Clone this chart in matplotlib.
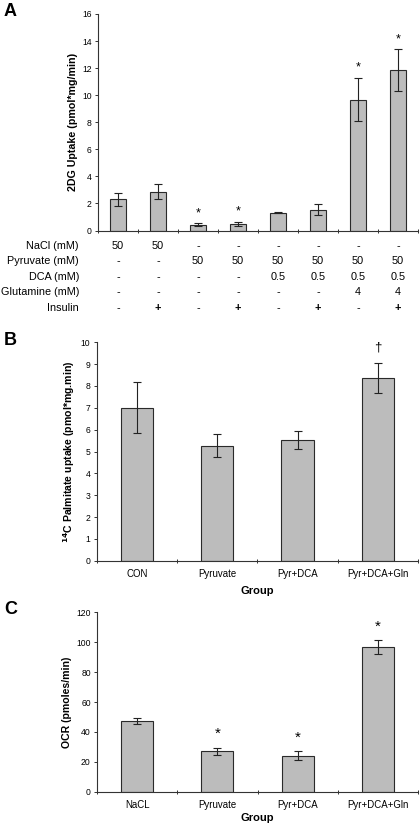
import matplotlib
matplotlib.use("Agg")
import matplotlib.pyplot as plt
import matplotlib.transforms as mtrans
import numpy as np

plt.rcParams['font.family'] = ['Liberation Sans', 'DejaVu Sans']

# ---- Panel A data ----
a_values = [2.3, 2.88, 0.42, 0.48, 1.33, 1.54, 9.68, 11.84]
a_errors = [0.49, 0.52, 0.11, 0.15, 0.03, 0.42, 1.6, 1.56]
a_sig = ['', '', '*', '*', '', '', '*', '*']
row_labels = ['NaCl (mM)', 'Pyruvate (mM)', 'DCA (mM)', 'Glutamine (mM)', 'Insulin']
row_nacl = ['50', '50', '-', '-', '-', '-', '-', '-']
row_pyr = ['-', '-', '50', '50', '50', '50', '50', '50']
row_dca = ['-', '-', '-', '-', '0.5', '0.5', '0.5', '0.5']
row_gln = ['-', '-', '-', '-', '-', '-', '4', '4']
row_ins = ['-', '+', '-', '+', '-', '+', '-', '+']
a_yticks = [0, 2, 4, 6, 8, 10, 12, 14, 16]

# ---- Panel B data ----
b_groups = ['CON', 'Pyruvate', 'Pyr+DCA', 'Pyr+DCA+Gln']
b_values = [7.01, 5.26, 5.52, 8.35]
b_errors = [1.16, 0.53, 0.42, 0.69]
b_sig = ['', '', '', '\u2020']
b_yticks = list(range(0, 11))

# ---- Panel C data ----
c_groups = ['NaCL', 'Pyruvate', 'Pyr+DCA', 'Pyr+DCA+Gln']
c_values = [47.5, 26.9, 24.2, 96.6]
c_errors = [2.1, 2.4, 2.7, 4.8]
c_sig = ['', '*', '*', '*']
c_yticks = [0, 20, 40, 60, 80, 100, 120]

W, H = 420, 824
fig = plt.figure(figsize=(W / 100, H / 100), dpi=100)

def ax_rect(left, top, right, bottom):
    return [left / W, 1 - bottom / H, (right - left) / W, (bottom - top) / H]

BAR_FC = '#bcbcbc'
BAR_EC = '#2a2a2a'
YTICK_FS = 6.2
XTICK_FS = 6.9
YLAB_FS = 7.7

def style_axis(ax, n):
    for s in ['top', 'right']:
        ax.spines[s].set_visible(False)
    for s in ['left', 'bottom']:
        ax.spines[s].set_linewidth(0.8)
        ax.spines[s].set_color('#333333')
    ax.set_xlim(-0.5, n - 0.5)
    ax.set_xticks(np.arange(n + 1) - 0.5, minor=True)
    ax.tick_params(axis='x', which='minor', length=3, width=0.7, direction='inout', color='#333333')
    ax.tick_params(axis='x', which='major', length=0, labelsize=XTICK_FS, pad=6)
    ax.tick_params(axis='y', length=2.5, width=0.7, labelsize=YTICK_FS, pad=2, color='#333333')

def draw_bars(ax, values, errors):
    x = np.arange(len(values))
    ax.bar(x, values, width=0.4, color=BAR_FC, edgecolor=BAR_EC, linewidth=0.8, zorder=2)
    ax.errorbar(x, values, yerr=errors, fmt='none', ecolor='#222222', elinewidth=0.8,
                capsize=3, capthick=0.8, zorder=3)
    return x

# ---- Panel A ----
axA = fig.add_axes(ax_rect(98, 14, 418, 230.5))
xa = draw_bars(axA, a_values, a_errors)
style_axis(axA, len(a_values))
axA.set_ylim(0, 16)
axA.set_yticks(a_yticks)
axA.set_xticks(xa)
axA.set_xticklabels([])
axA.set_ylabel('2DG Uptake (pmol*mg/min)', fontsize=YLAB_FS, fontweight='bold', labelpad=3)
for xi, v, e, s in zip(xa, a_values, a_errors, a_sig):
    if s:
        axA.text(xi, v + e + 0.3, s, ha='center', va='bottom', fontsize=9)

rows = [row_nacl, row_pyr, row_dca, row_gln, row_ins]
row_y = [245.7, 261.2, 276.7, 292.2, 308.0]
trans = mtrans.blended_transform_factory(axA.transData, fig.transFigure)
for lbl, vals, yp in zip(row_labels, rows, row_y):
    fy = 1 - yp / H
    fig.text(79 / W, fy, lbl, ha='right', va='center', fontsize=7.8)
    for xi, t in zip(xa, vals):
        axA.text(xi, fy, t, transform=trans, ha='center', va='center', fontsize=7.8,
                 fontweight='bold' if t == '+' else 'normal')

fig.text(4 / W, 1 - 11 / H, 'A', fontsize=13, fontweight='bold', va='center', ha='left')

# ---- Panel B ----
axB = fig.add_axes(ax_rect(96.7, 342.3, 418, 560.7))
xb = draw_bars(axB, b_values, b_errors)
style_axis(axB, len(b_values))
axB.set_ylim(0, 10)
axB.set_yticks(b_yticks)
axB.set_xticks(xb)
axB.set_xticklabels(b_groups)
axB.set_xlabel('Group', fontsize=8, fontweight='bold', labelpad=5)
axB.set_ylabel('$^{\\mathbf{14}}$C Palmitate uptake (pmol*mg.min)', fontsize=YLAB_FS - 0.1,
               fontweight='bold', labelpad=3)
for xi, v, e, s in zip(xb, b_values, b_errors, b_sig):
    if s:
        axB.text(xi, v + e + 0.45, s, ha='center', va='bottom', fontsize=9.5)
fig.text(4 / W, 1 - 340 / H, 'B', fontsize=13, fontweight='bold', va='center', ha='left')

# ---- Panel C ----
axC = fig.add_axes(ax_rect(97, 612.3, 418, 791.7))
xc = draw_bars(axC, c_values, c_errors)
style_axis(axC, len(c_values))
axC.set_ylim(0, 120)
axC.set_yticks(c_yticks)
axC.set_xticks(xc)
axC.set_xticklabels(c_groups)
axC.set_xlabel('Group', fontsize=8, fontweight='bold', labelpad=2)
axC.set_ylabel('OCR (pmoles/min)', fontsize=YLAB_FS - 0.1, fontweight='bold', labelpad=3)
for xi, v, e, s in zip(xc, c_values, c_errors, c_sig):
    if s:
        axC.text(xi, v + e + 4.5, s, ha='center', va='bottom', fontsize=11)
fig.text(4 / W, 1 - 610 / H, 'C', fontsize=13, fontweight='bold', va='center', ha='left')

fig.savefig('out.png', dpi=100)
